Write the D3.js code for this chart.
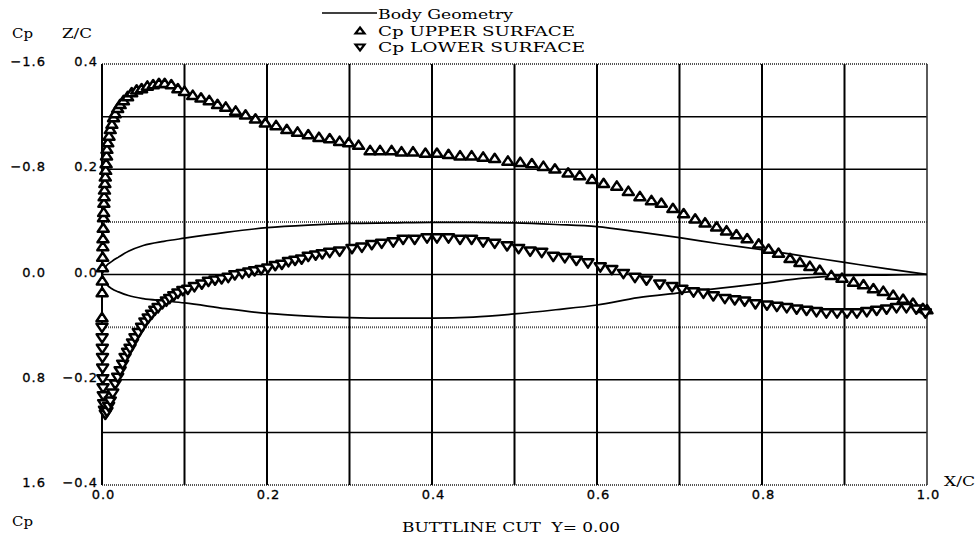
<!DOCTYPE html>
<html>
<head>
<meta charset="utf-8">
<script src="https://cdn.jsdelivr.net/npm/d3@7"></script>
<style>
  body { margin: 0; background: #fff; }
  svg { display: block; }
</style>
</head>
<body>
<div id="chart"></div>
<script>
// body geometry (Z/C)
const geomX = [0, 0.005, 0.012, 0.02, 0.032, 0.05, 0.075, 0.1, 0.15, 0.2, 0.25, 0.3, 0.35, 0.4, 0.45, 0.5, 0.55, 0.6, 0.65, 0.7, 0.75, 0.8, 0.85, 0.9, 0.95, 1.0]
const geomUpper = [0, 0.016, 0.025, 0.033, 0.044, 0.055, 0.063, 0.069, 0.080, 0.089, 0.094, 0.097, 0.098, 0.099, 0.099, 0.098, 0.095, 0.091, 0.081, 0.070, 0.058, 0.047, 0.035, 0.023, 0.011, 0]
const geomLower = [0, -0.017, -0.027, -0.033, -0.040, -0.046, -0.050, -0.054, -0.065, -0.074, -0.079, -0.082, -0.083, -0.083, -0.081, -0.075, -0.067, -0.058, -0.044, -0.035, -0.026, -0.017, -0.007, -0.002, -0.001, 0]

// Cp upper surface
const upperX = [0.000, 0.0002, 0.0004, 0.0006, 0.0008, 0.001, 0.0012, 0.0015, 0.0018, 0.002, 0.0023, 0.0026, 0.003, 0.0035, 0.004, 0.0045, 0.005, 0.0055, 0.006, 0.007, 0.0085,
  0.010, 0.012, 0.014, 0.016, 0.019, 0.022, 0.026, 0.031, 0.036, 0.042, 0.048, 0.055, 0.062, 0.069, 0.076, 0.084, 0.092, 0.100,
  0.110, 0.120, 0.130, 0.140, 0.150, 0.162, 0.174, 0.186, 0.198, 0.211, 0.224, 0.237, 0.250, 0.263, 0.276, 0.288, 0.299, 0.311,
  0.325, 0.337, 0.351, 0.363, 0.377, 0.392, 0.406, 0.420, 0.434, 0.448, 0.462, 0.476, 0.492, 0.507, 0.521, 0.535, 0.549, 0.565,
  0.579, 0.594, 0.608, 0.624, 0.638, 0.652, 0.666, 0.678, 0.692, 0.705, 0.719, 0.731, 0.745, 0.757, 0.769, 0.782, 0.796, 0.808,
  0.820, 0.834, 0.846, 0.858, 0.870, 0.884, 0.897, 0.911, 0.923, 0.935, 0.947, 0.959, 0.971, 0.983, 0.995, 1.000]
const upperCp = [0.33, 0.14, 0.05, -0.05, -0.13, -0.21, -0.27, -0.35, -0.43, -0.47, -0.54, -0.59, -0.64, -0.69, -0.74, -0.79, -0.84, -0.90, -0.95, -1.00, -1.05,
  -1.10, -1.14, -1.19, -1.22, -1.26, -1.29, -1.32, -1.35, -1.38, -1.40, -1.41, -1.43, -1.44, -1.45, -1.45, -1.44, -1.41, -1.39,
  -1.36, -1.34, -1.32, -1.29, -1.27, -1.24, -1.21, -1.18, -1.15, -1.13, -1.10, -1.08, -1.06, -1.04, -1.03, -1.01, -1.00, -0.98,
  -0.94, -0.94, -0.94, -0.93, -0.93, -0.92, -0.92, -0.91, -0.90, -0.90, -0.89, -0.88, -0.86, -0.85, -0.84, -0.82, -0.80, -0.77,
  -0.75, -0.72, -0.69, -0.67, -0.63, -0.59, -0.56, -0.54, -0.50, -0.46, -0.42, -0.39, -0.36, -0.33, -0.30, -0.27, -0.23, -0.19,
  -0.16, -0.12, -0.09, -0.06, -0.03, 0.01, 0.03, 0.06, 0.08, 0.11, 0.13, 0.16, 0.19, 0.22, 0.26, 0.27]

// Cp lower surface
const lowerX = [0.000, 0.0002, 0.0004, 0.0006, 0.0008, 0.001, 0.0013, 0.0016, 0.002, 0.003, 0.004, 0.006, 0.008,
  0.010, 0.013, 0.016, 0.019, 0.022, 0.025, 0.028, 0.031, 0.034, 0.037, 0.040, 0.044, 0.048, 0.052, 0.056, 0.060, 0.064, 0.068,
  0.073, 0.078, 0.082, 0.087, 0.092, 0.098, 0.104, 0.112, 0.121, 0.129, 0.137, 0.145, 0.153, 0.161, 0.170, 0.178, 0.185, 0.193,
  0.201, 0.210, 0.218, 0.226, 0.234, 0.242, 0.250, 0.259, 0.267, 0.276, 0.288, 0.303, 0.315, 0.327, 0.339, 0.353, 0.365, 0.379,
  0.394, 0.406, 0.420, 0.434, 0.448, 0.462, 0.476, 0.491, 0.505, 0.519, 0.533, 0.547, 0.561, 0.575, 0.589, 0.604, 0.618, 0.632,
  0.646, 0.660, 0.676, 0.691, 0.703, 0.717, 0.729, 0.741, 0.755, 0.767, 0.779, 0.792, 0.806, 0.818, 0.830, 0.842, 0.854, 0.866,
  0.878, 0.891, 0.903, 0.915, 0.927, 0.939, 0.951, 0.963, 0.975, 0.987, 0.998]
const lowerCp = [0.40, 0.48, 0.56, 0.63, 0.71, 0.79, 0.86, 0.92, 0.98, 1.03, 1.06, 1.04, 1.00,
  0.96, 0.90, 0.83, 0.78, 0.73, 0.68, 0.63, 0.59, 0.56, 0.52, 0.48, 0.44, 0.40, 0.36, 0.33, 0.30, 0.27, 0.25,
  0.22, 0.20, 0.18, 0.16, 0.14, 0.12, 0.11, 0.09, 0.07, 0.05, 0.04, 0.03, 0.02, 0.00, -0.01, -0.02, -0.03, -0.04,
  -0.05, -0.07, -0.08, -0.10, -0.11, -0.12, -0.14, -0.15, -0.16, -0.17, -0.18, -0.20, -0.21, -0.23, -0.24, -0.25, -0.27, -0.27,
  -0.28, -0.28, -0.28, -0.27, -0.27, -0.25, -0.24, -0.22, -0.20, -0.18, -0.17, -0.14, -0.13, -0.11, -0.09, -0.06, -0.04, -0.01,
  0.02, 0.04, 0.07, 0.09, 0.11, 0.13, 0.14, 0.16, 0.18, 0.19, 0.20, 0.22, 0.23, 0.24, 0.25, 0.26, 0.27, 0.28,
  0.29, 0.29, 0.29, 0.29, 0.28, 0.27, 0.26, 0.25, 0.25, 0.26, 0.29]

// ticks
const xTicks = [0, 0.2, 0.4, 0.6, 0.8, 1.0]
const xGrid = [0.1, 0.2, 0.3, 0.4, 0.5, 0.6, 0.7, 0.8, 0.9]
const zGrid = [-0.4, -0.3, -0.2, -0.1, 0, 0.1, 0.2, 0.3, 0.4]
const zLabels = [0.4, 0.2, 0, -0.2, -0.4]
const cpLabels = [-1.6, -0.8, 0, 0.8, 1.6]

const W = 978, H = 540
const pLeft = 102, pRight = 927, pTop = 64, pBottom = 485

const svg = d3.select("#chart").append("svg")
              .attr("width", W)
              .attr("height", H)
              .style("background", "#fff")

const xScale = d3.scaleLinear([0, 1], [pLeft, pRight])
const zScale = d3.scaleLinear([-0.4, 0.4], [pBottom, pTop])
const cpScale = d3.scaleLinear([1.6, -1.6], [pBottom, pTop])

const serif = "'DejaVu Serif', 'Liberation Serif', serif"
const sans = "'DejaVu Sans', sans-serif"

// grid
const isDotted = z => Math.abs(Math.abs(z) - 0.1) < 1e-9 || Math.abs(Math.abs(z) - 0.4) < 1e-9

svg.append("g")
   .selectAll("line")
   .data(zGrid)
   .enter()
   .append("line")
   .attr("x1", pLeft).attr("x2", pRight)
   .attr("y1", d => zScale(d)).attr("y2", d => zScale(d))
   .attr("stroke", d => isDotted(d) ? "#555" : "#000")
   .attr("stroke-width", d => isDotted(d) ? 2 : 1.5)
   .attr("stroke-dasharray", d => isDotted(d) ? "1,1" : null)

svg.append("g")
   .selectAll("line")
   .data(xGrid)
   .enter()
   .append("line")
   .attr("x1", d => xScale(d)).attr("x2", d => xScale(d))
   .attr("y1", pTop).attr("y2", pBottom)
   .attr("stroke", "#000")
   .attr("stroke-width", 2)

// frame left / right
svg.append("line")
   .attr("x1", xScale(0)).attr("x2", xScale(0))
   .attr("y1", pTop).attr("y2", pBottom)
   .attr("stroke", "#000").attr("stroke-width", 2)
svg.append("line")
   .attr("x1", xScale(1)).attr("x2", xScale(1))
   .attr("y1", pTop).attr("y2", pBottom)
   .attr("stroke", "#333").attr("stroke-width", 1.6)

// y labels (two columns)
const fmt = d3.format(".1f")
svg.append("g")
   .selectAll("text")
   .data(cpLabels)
   .enter()
   .append("text")
   .attr("x", 46)
   .attr("y", d => cpScale(d) + 2)
   .attr("text-anchor", "end")
   .attr("font-family", sans)
   .attr("font-size", 13)
   .attr("letter-spacing", 1)
   .attr("stroke", "#000")
   .attr("stroke-width", 0.3)
   .text(d => fmt(d))

svg.append("g")
   .selectAll("text")
   .data(zLabels)
   .enter()
   .append("text")
   .attr("x", 98)
   .attr("y", d => zScale(d) + 2)
   .attr("text-anchor", "end")
   .attr("font-family", sans)
   .attr("font-size", 13)
   .attr("letter-spacing", 1)
   .attr("stroke", "#000")
   .attr("stroke-width", 0.3)
   .text(d => fmt(d))

// x labels
let xAxis = d3.axisBottom(xScale)
              .tickValues(xTicks)
              .tickSize(0)
              .tickPadding(5)
              .tickFormat(fmt)
let gx = svg.append("g")
   .attr("transform", `translate(0, ${pBottom})`)
   .call(xAxis)
gx.select(".domain").remove()
gx.selectAll("text")
  .attr("font-family", sans)
  .attr("font-size", 13)
  .attr("letter-spacing", 1)
  .attr("dx", 1)
  .attr("fill", "#000")
  .attr("stroke", "#000")
  .attr("stroke-width", 0.3)

// axis titles
const titles = [
  {t: "Cp", x: 12, y: 38, w: 21},
  {t: "Z/C", x: 62, y: 38, w: 30},
  {t: "X/C", x: 944, y: 486, w: 31},
  {t: "Cp", x: 12, y: 526, w: 21},
  {t: "BUTTLINE CUT  Y= 0.00", x: 402, y: 532, w: 218}
]
svg.append("g")
   .selectAll("text")
   .data(titles)
   .enter()
   .append("text")
   .attr("x", d => d.x)
   .attr("y", d => d.y)
   .attr("font-family", serif)
   .attr("font-size", 13)
   .attr("textLength", d => d.w)
   .attr("lengthAdjust", "spacingAndGlyphs")
   .style("white-space", "pre")
   .text(d => d.t)

// body geometry
const geomLine = d3.line()
  .x(d => xScale(d[0]))
  .y(d => zScale(d[1]))
  .curve(d3.curveMonotoneX)

for (let surf of [geomUpper, geomLower]) {
  svg.append("path")
     .datum(geomX.map((x, i) => [x, surf[i]]))
     .attr("fill", "none")
     .attr("stroke", "#000")
     .attr("stroke-width", 1.7)
     .attr("d", geomLine)
}

// markers
const triUp = "M0,-5L5.5,3.3L-5.5,3.3Z"
const triDown = "M0,5L5.5,-3.3L-5.5,-3.3Z"

function drawMarkers(xs, cps, shape) {
  svg.append("g")
     .selectAll("path")
     .data(xs.map((x, i) => [x, cps[i]]))
     .enter()
     .append("path")
     .attr("d", shape)
     .attr("transform", d => `translate(${xScale(d[0])}, ${cpScale(d[1])})`)
     .attr("fill", "#fff")
     .attr("stroke", "#000")
     .attr("stroke-width", 2.5)
     .attr("stroke-linejoin", "round")
}
drawMarkers(upperX, upperCp, triUp)
drawMarkers(lowerX, lowerCp, triDown)

// legend
svg.append("line")
   .attr("x1", 322).attr("x2", 377)
   .attr("y1", 13).attr("y2", 13)
   .attr("stroke", "#000").attr("stroke-width", 1.7)
svg.append("path").attr("d", "M0,-3.5L4.5,2.5L-4.5,2.5Z")
   .attr("transform", "translate(360, 31)")
   .attr("fill", "#fff").attr("stroke", "#000").attr("stroke-width", 2.2)
svg.append("path").attr("d", "M0,3.5L4.5,-2.5L-4.5,-2.5Z")
   .attr("transform", "translate(360, 47)")
   .attr("fill", "#fff").attr("stroke", "#000").attr("stroke-width", 2.2)

const legendItems = [
  {t: "Body Geometry", y: 19, w: 135},
  {t: "Cp UPPER SURFACE", y: 36, w: 197},
  {t: "Cp LOWER SURFACE", y: 52, w: 207}
]
svg.append("g")
   .selectAll("text")
   .data(legendItems)
   .enter()
   .append("text")
   .attr("x", 378)
   .attr("y", d => d.y)
   .attr("font-family", serif)
   .attr("font-size", 13)
   .attr("textLength", d => d.w)
   .attr("lengthAdjust", "spacingAndGlyphs")
   .text(d => d.t)
</script>
</body>
</html>
